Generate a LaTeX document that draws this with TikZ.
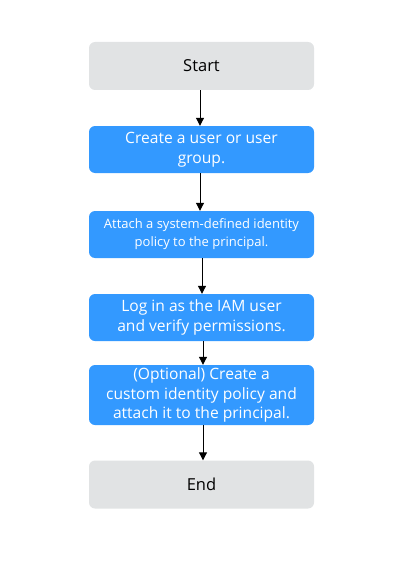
\documentclass[tikz,border=0pt]{standalone}
\usepackage{fontspec}
\setmainfont{Open Sans}
\usetikzlibrary{arrows.meta}
\definecolor{gbox}{HTML}{E1E3E4}
\definecolor{bbox}{HTML}{3399FF}
\tikzset{
  base/.style={rounded corners=6pt, minimum width=225pt, align=center, inner sep=0pt},
  grey/.style={base, fill=gbox, text=black, minimum height=48pt, font=\fontsize{16.5}{18}\selectfont},
  blue/.style={base, fill=bbox, text=white, font=\fontsize{15.6}{20}\selectfont},
  conn/.style={-{Triangle[length=8pt,width=8pt]}, line width=1pt, black}
}
\begin{document}
\begin{tikzpicture}[x=1pt,y=-1pt]
\useasboundingbox (0,0) rectangle (402,575);
\node[grey] (start) at (201.5,66) {Start};
\node[blue, minimum height=47pt] (create) at (201.5,149.5) {Create a user or user\\group.};
\node[blue, minimum height=47pt, font=\fontsize{13}{18}\selectfont] (attach) at (201.5,234.5) {Attach a system-defined identity\\policy to the principal.};
\node[blue, minimum height=47pt] (login) at (201.5,317.5) {Log in as the IAM user\\and verify permissions.};
\node[blue, minimum height=60pt, font=\fontsize{15.6}{19.5}\selectfont] (opt) at (201.5,395) {(Optional) Create a\\custom identity policy and\\attach it to the principal.};
\node[grey] (end) at (201.5,484.5) {End};
\draw[conn] (start.south -| 200,0) -- (create.north -| 200,0);
\draw[conn] (create.south -| 200,0) -- (attach.north -| 200,0);
\draw[conn] (attach.south -| 202,0) -- (login.north -| 202,0);
\draw[conn] (login.south -| 203,0) -- (opt.north -| 203,0);
\draw[conn] (opt.south -| 203,0) -- (end.north -| 203,0);
\end{tikzpicture}
\end{document}
